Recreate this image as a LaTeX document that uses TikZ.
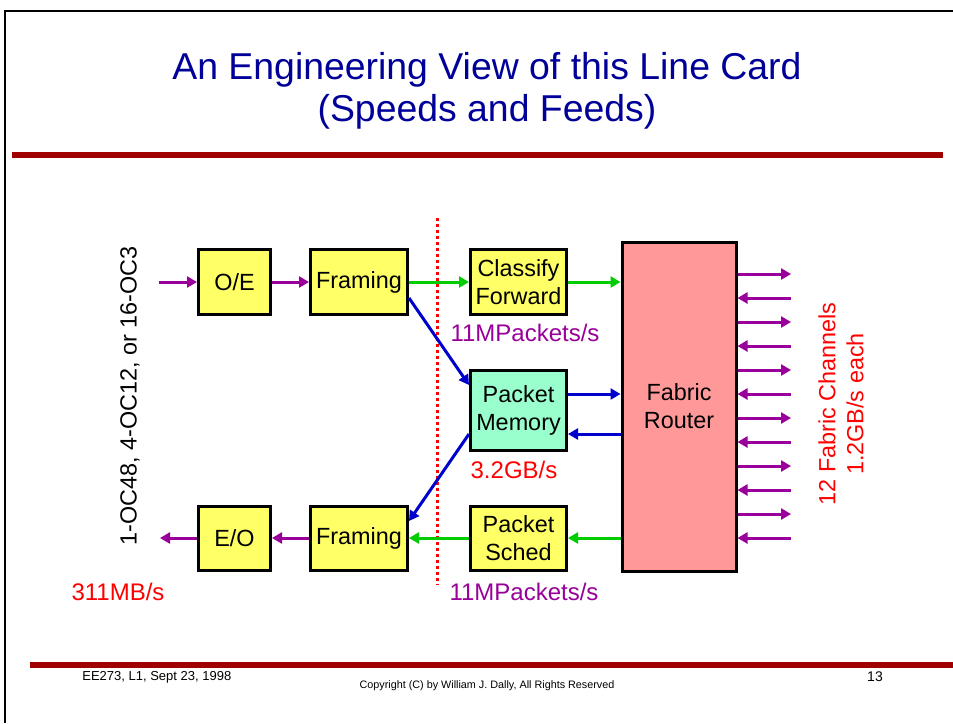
\documentclass[tikz,border=0pt]{standalone}
\usepackage{fontspec}
\setmainfont{Liberation Sans}
\usetikzlibrary{
  arrows.meta,
  positioning,
  calc
}
\definecolor{CardYellow}{HTML}{FFFF66}
\definecolor{RouterPink}{HTML}{FF9999}
\definecolor{MemMint}{HTML}{99FFCC}
\definecolor{LinkPurple}{HTML}{990099}
\definecolor{LinkGreen}{HTML}{00CC00}
\definecolor{LinkBlue}{HTML}{0000CC}
\definecolor{TitleBlue}{HTML}{000099}
\definecolor{RuleRed}{HTML}{A00000}
\newcommand{\boxfont}{\fontsize{11.7pt}{14pt}\selectfont}
\newcommand{\ratefont}{\fontsize{12pt}{14pt}\selectfont}
\newcommand{\titlefont}{\fontsize{18.7pt}{21pt}\selectfont}
\newcommand{\footfont}{\fontsize{6.5pt}{7pt}\selectfont}
\tikzset{
  % Functional block of the line card
  blk/.style={
    rectangle, draw=black, line width=1.5pt, fill=#1,
    inner sep=0pt, align=center, font=\boxfont
  },
  % Data path arrow
  link/.style={
    -{Triangle[length=5pt,width=5.5pt]},
    line width=1.5pt, color=#1
  },
  % Rate annotation
  rate/.style={font=\ratefont, text=#1, inner sep=0pt},
  % Red dotted boundary
  divider/.style={draw=red, line width=1.5pt, dash pattern=on 1.5pt off 1.5pt},
  % Slide rules
  slrule/.style={fill=RuleRed}
}
\begin{document}
\begin{tikzpicture}[x=0.5pt, y=-0.5pt]
  \useasboundingbox (0,0) rectangle (953,723);
  % Slide frame and rules
  \draw[line width=1.2pt] (953,11) -- (5,11) -- (5,723);
  \fill[slrule] (12,152) rectangle (943,158);
  \fill[slrule] (30,662) rectangle (953,668);

  \node[font=\titlefont, text=TitleBlue, align=center] (title) at (487,91)
    {An Engineering View of this Line Card\\(Speeds and Feeds)};

  % Input side
  \node[blk=CardYellow, minimum width=36pt, minimum height=32.5pt] (oe)    at (234.5,282) {O/E};
  \node[blk=CardYellow, minimum width=48.5pt, minimum height=32.5pt] (frIn) at (359,282) {Framing};
  \node[blk=CardYellow, minimum width=48pt, minimum height=32.5pt] (cls)   at (518.5,282) {Classify\\Forward};
  \node[blk=MemMint, minimum width=48pt, minimum height=40pt] (mem)        at (518.5,410) {Packet\\Memory};
  \node[blk=RouterPink, minimum width=57pt, minimum height=164.5pt] (router) at (679,406.5) {Fabric\\Router};
  % Output side
  \node[blk=CardYellow, minimum width=36pt, minimum height=32pt] (eo)      at (234.5,538) {E/O};
  \node[blk=CardYellow, minimum width=48.5pt, minimum height=32pt] (frOut) at (359,538) {Framing};
  \node[blk=CardYellow, minimum width=48pt, minimum height=32pt] (sched)   at (518.5,538) {Packet\\Sched};

  \draw[divider] (437,218) -- (437,585);

  \coordinate (lineIn)  at (159,282);
  \coordinate (lineOut) at (160,538);
  \coordinate (memOut)  at ($(mem.east)+(0,-16)$);
  \coordinate (memIn)   at ($(mem.east)+(0,24)$);

  \draw[link=LinkPurple] (lineIn) -- (oe);
  \draw[link=LinkPurple] (oe) -- (frIn);
  \draw[link=LinkGreen]  (frIn) -- (cls);
  \draw[link=LinkGreen]  (cls.east) -- (cls.east -| router.west);
  \draw[link=LinkBlue]   ($(frIn.east)+(0,16)$) -- ($(mem.west)+(0,-25)$);
  \draw[link=LinkBlue]   ($(mem.west)+(0,24)$) -- ($(frOut.east)+(0,-17)$);
  \draw[link=LinkBlue]   (memOut) -- (memOut -| router.west);
  \draw[link=LinkBlue]   (memIn -| router.west) -- (memIn);
  \draw[link=LinkGreen]  (sched.east -| router.west) -- (sched.east);
  \draw[link=LinkGreen]  (sched) -- (frOut);
  \draw[link=LinkPurple] (frOut) -- (eo);
  \draw[link=LinkPurple] (eo) -- (lineOut);

  % Fabric channels, alternating out / in
  \foreach \k in {0,...,11} {
    \coordinate (ch\k) at (791,{274+24*\k});
    \ifodd\k
      \draw[link=LinkPurple] (ch\k) -- (ch\k -| router.east);
    \else
      \draw[link=LinkPurple] (ch\k -| router.east) -- (ch\k);
    \fi
  }

  % Speeds
  \node[rate=LinkPurple] (rateCls)  at (525,333) {11MPackets/s};
  \node[rate=red]        (rateMem)  at (514,470) {3.2GB/s};
  \node[rate=red]        (rateLine) at (118,592) {311MB/s};
  \node[rate=LinkPurple] (rateSch)  at (524,592) {11MPackets/s};
  \node[font=\boxfont, rotate=90] (ports) at (130,396) {1-OC48, 4-OC12, or 16-OC3};
  \node[font=\boxfont, text=red, rotate=90, align=center] (chans) at (841,404)
    {12 Fabric Channels\\1.2GB/s each};

  % Footer
  \node[font=\footfont, anchor=west, inner sep=0pt] (foot) at (82,677) {EE273, L1, Sept 23, 1998};
  \node[font=\fontsize{5.4pt}{6pt}\selectfont, inner sep=0pt] (copy) at (487,686) {Copyright (C) by William J. Dally, All Rights Reserved};
  \node[font=\fontsize{7pt}{8pt}\selectfont, inner sep=0pt] (page) at (875,677) {13};
\end{tikzpicture}
\end{document}
